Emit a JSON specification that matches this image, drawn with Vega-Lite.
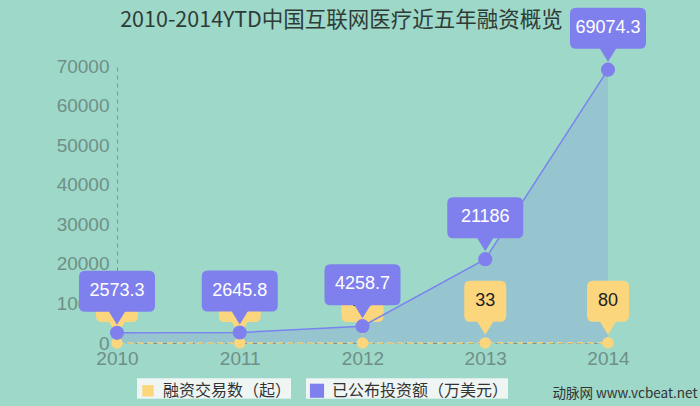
{
  "$schema": "https://vega.github.io/schema/vega-lite/v6.json",
  "autosize": "none",
  "width": 491,
  "height": 277,
  "padding": {"left": 117, "top": 66, "right": 92, "bottom": 63},
  "background": "#9dd8c9",
  "title": {
    "text": "2010-2014YTD中国互联网医疗近五年融资概览",
    "font": "Noto Sans CJK SC",
    "fontSize": 21.5,
    "fontWeight": "normal",
    "color": "#2f3b37",
    "anchor": "start",
    "dx": 64,
    "offset": -24
  },
  "config": {"view": {"stroke": null}},
  "data": {
    "values": [
      {"year": "2010", "series": "融资交易数（起）", "value": 12},
      {"year": "2011", "series": "融资交易数（起）", "value": 20},
      {"year": "2012", "series": "融资交易数（起）", "value": 24},
      {"year": "2013", "series": "融资交易数（起）", "value": 33},
      {"year": "2014", "series": "融资交易数（起）", "value": 80},
      {"year": "2010", "series": "已公布投资额（万美元）", "value": 2573.3},
      {"year": "2011", "series": "已公布投资额（万美元）", "value": 2645.8},
      {"year": "2012", "series": "已公布投资额（万美元）", "value": 4258.7},
      {"year": "2013", "series": "已公布投资额（万美元）", "value": 21186},
      {"year": "2014", "series": "已公布投资额（万美元）", "value": 69074.3}
    ]
  },
  "encoding": {
    "x": {
      "field": "year",
      "type": "ordinal",
      "scale": {"type": "point", "padding": 0},
      "axis": {
        "title": "动脉网 www.vcbeat.net",
        "titleFont": "Noto Sans CJK SC",
        "titleFontSize": 13.5,
        "titleFontWeight": "normal",
        "titleColor": "#333333",
        "titleX": 580,
        "titleY": 50,
        "titleAlign": "right",
        "titleBaseline": "middle",
        "labelAngle": 0,
        "labelFlush": false,
        "labelFont": "Liberation Sans",
        "labelFontSize": 19,
        "labelColor": "#6f8f87",
        "labelPadding": 6,
        "ticks": false,
        "grid": false,
        "domainColor": "#7d948d",
        "domainDash": [5, 4],
        "domainWidth": 1
      }
    },
    "y": {
      "field": "value",
      "type": "quantitative",
      "scale": {"domain": [0, 70000]},
      "axis": {
        "title": null,
        "values": [0, 10000, 20000, 30000, 40000, 50000, 60000, 70000],
        "format": "d",
        "grid": false,
        "ticks": false,
        "labelFont": "Liberation Sans",
        "labelFontSize": 19,
        "labelColor": "#6f8f87",
        "labelPadding": 8,
        "domainColor": "#7d948d",
        "domainDash": [4, 4],
        "domainWidth": 1
      }
    }
  },
  "layer": [
    {
      "transform": [{"filter": "datum.series === '已公布投资额（万美元）'"}],
      "mark": {"type": "area", "color": "#7b7ff0", "opacity": 0.2}
    },
    {
      "transform": [{"filter": "datum.series === '融资交易数（起）'"}],
      "mark": {"type": "line", "color": "#f3d47e", "strokeWidth": 1.5, "strokeDash": [6, 4]}
    },
    {
      "transform": [{"filter": "datum.series === '融资交易数（起）'"}],
      "mark": {
        "type": "point",
        "filled": true,
        "opacity": 1,
        "size": 1600,
        "color": "#fcd67c",
        "shape": "M -0.75 -3.1 L 0.75 -3.1 Q 1.05 -3.1 1.05 -2.8 L 1.05 -1.35 Q 1.05 -1.05 0.75 -1.05 L 0.4 -1.05 L 0 -0.4 L -0.4 -1.05 L -0.75 -1.05 Q -1.05 -1.05 -1.05 -1.35 L -1.05 -2.8 Q -1.05 -3.1 -0.75 -3.1 Z"
      }
    },
    {
      "transform": [{"filter": "datum.series === '融资交易数（起）'"}],
      "mark": {"type": "text", "dy": -42, "font": "Liberation Sans", "fontSize": 18, "color": "#222222", "baseline": "middle"},
      "encoding": {"text": {"field": "value", "type": "nominal"}}
    },
    {
      "transform": [{"filter": "datum.series === '已公布投资额（万美元）'"}],
      "mark": {"type": "line", "color": "#7b83ee", "strokeWidth": 1.5}
    },
    {
      "mark": {"type": "point", "filled": true, "opacity": 1, "shape": "circle"},
      "encoding": {
        "color": {
          "field": "series",
          "type": "nominal",
          "scale": {"domain": ["融资交易数（起）", "已公布投资额（万美元）"], "range": ["#fcd67c", "#7f80ee"]},
          "legend": {
            "orient": "none",
            "legendX": 20,
            "legendY": 312,
            "direction": "horizontal",
            "title": null,
            "symbolType": "square",
            "symbolSize": 290,
            "symbolStrokeWidth": 0,
            "symbolOpacity": 1,
            "labelFont": "Noto Sans CJK SC",
            "labelFontSize": 16,
            "labelColor": "#333333",
            "labelOffset": 7,
            "labelLimit": 400,
            "columnPadding": 14,
            "padding": 0,
            "symbolOffset": 3,
            "encode": {
              "entries": {
                "update": {"fill": {"value": "#eef5f2"}}
              },
              "symbols": {"update": {"y": {"value": 12.5}}},
              "labels": {"update": {"y": {"value": 12.5}}}
            }
          }
        },
        "size": {
          "field": "series",
          "type": "nominal",
          "scale": {"domain": ["融资交易数（起）", "已公布投资额（万美元）"], "range": [130, 200]},
          "legend": null
        }
      }
    },
    {
      "transform": [{"filter": "datum.series === '已公布投资额（万美元）'"}],
      "mark": {
        "type": "point",
        "filled": true,
        "opacity": 1,
        "size": 1600,
        "color": "#7f80ee",
        "shape": "M -1.6 -3.1 L 1.6 -3.1 Q 1.9 -3.1 1.9 -2.8 L 1.9 -1.35 Q 1.9 -1.05 1.6 -1.05 L 0.4 -1.05 L 0 -0.4 L -0.4 -1.05 L -1.6 -1.05 Q -1.9 -1.05 -1.9 -1.35 L -1.9 -2.8 Q -1.9 -3.1 -1.6 -3.1 Z"
      }
    },
    {
      "transform": [{"filter": "datum.series === '已公布投资额（万美元）'"}],
      "mark": {"type": "text", "dy": -42, "font": "Liberation Sans", "fontSize": 18, "color": "#ffffff", "baseline": "middle"},
      "encoding": {"text": {"field": "value", "type": "nominal"}}
    }
  ]
}
